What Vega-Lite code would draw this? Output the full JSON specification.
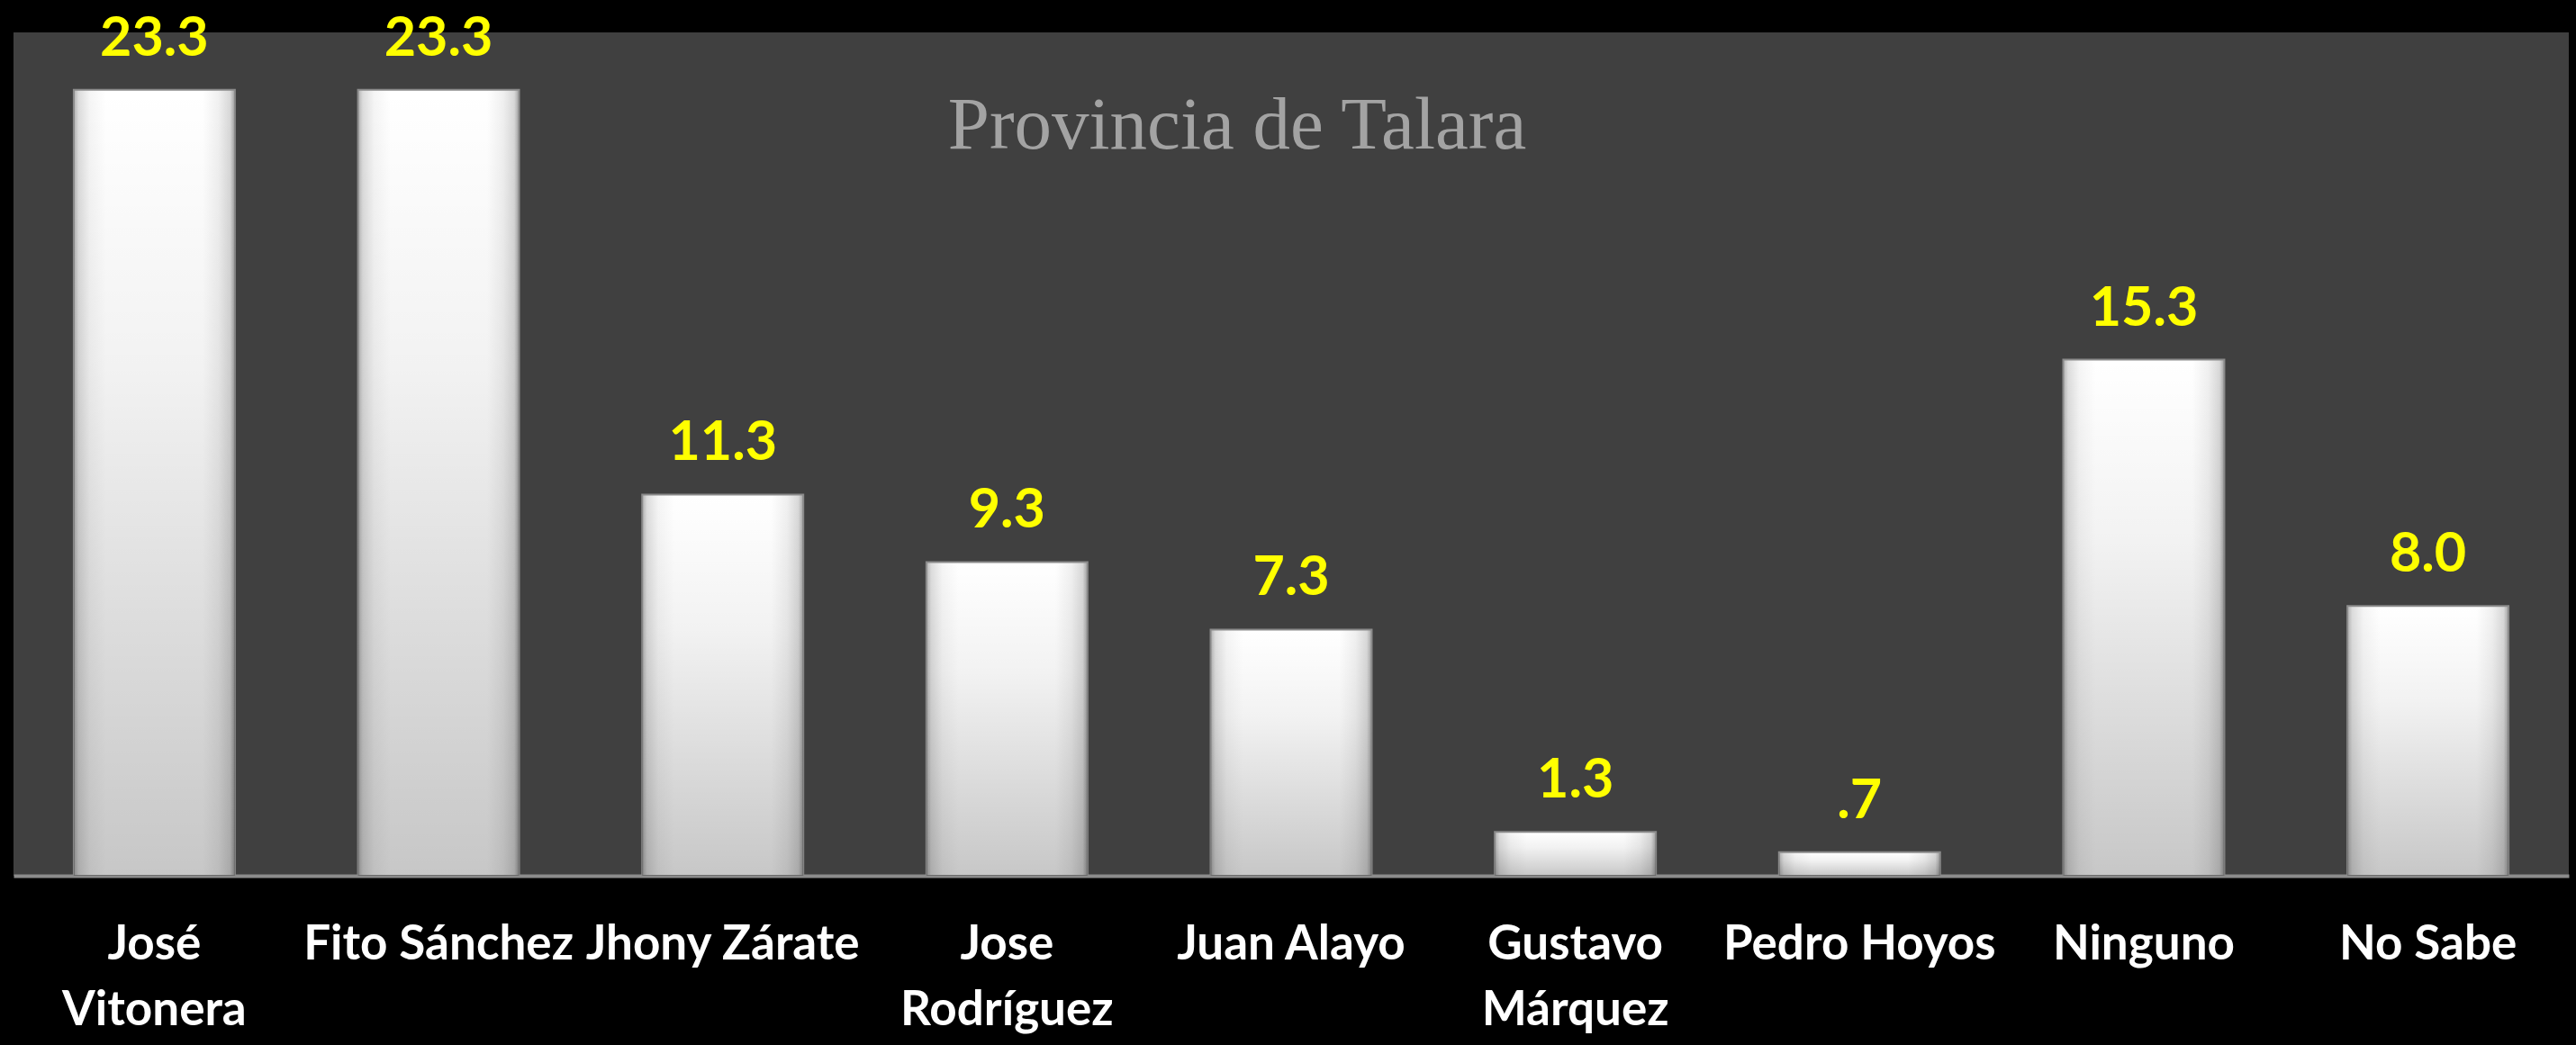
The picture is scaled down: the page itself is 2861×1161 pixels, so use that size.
{
  "$schema": "https://vega.github.io/schema/vega-lite/v6.json",
  "width": 2838,
  "height": 937,
  "autosize": {"type": "none"},
  "padding": {"left": 15, "top": 36, "right": 8, "bottom": 188},
  "background": "#000000",
  "title": {
    "text": "Provincia de Talara",
    "font": "Liberation Serif",
    "fontSize": 83,
    "fontWeight": "normal",
    "color": "#a3a3a3",
    "anchor": "middle",
    "frame": "group",
    "baseline": "alphabetic",
    "offset": -235,
    "dx": -60
  },
  "config": {"view": {"fill": "#404040", "stroke": null}},
  "data": {
    "values": [
      {"candidato": "José Vitonera", "pct": 23.3},
      {"candidato": "Fito Sánchez", "pct": 23.3},
      {"candidato": "Jhony Zárate", "pct": 11.3},
      {"candidato": "Jose Rodríguez", "pct": 9.3},
      {"candidato": "Juan Alayo", "pct": 7.3},
      {"candidato": "Gustavo Márquez", "pct": 1.3},
      {"candidato": "Pedro Hoyos", "pct": 0.7},
      {"candidato": "Ninguno", "pct": 15.3},
      {"candidato": "No Sabe", "pct": 8.0}
    ]
  },
  "encoding": {
    "x": {
      "field": "candidato",
      "type": "nominal",
      "sort": null,
      "scale": {"paddingInner": 0.433, "paddingOuter": 0.212},
      "axis": {
        "title": null,
        "labelAngle": 0,
        "labelColor": "#ffffff",
        "labelFont": "Lato",
        "labelFontSize": 53,
        "labelFontWeight": "bold",
        "labelLineHeight": 73,
        "labelPadding": 50,
        "ticks": false,
        "domainColor": "#8c8c8c",
        "domainWidth": 4,
        "labelOverlap": false,
        "labelBound": false,
        "labelFlush": false,
        "labelLimit": 0,
        "labelExpr": "indexof(['José Vitonera','Jose Rodríguez','Gustavo Márquez'], datum.value) >= 0 ? split(datum.value, ' ') : datum.value"
      }
    },
    "y": {
      "field": "pct",
      "type": "quantitative",
      "scale": {"domain": [0, 25], "nice": false},
      "axis": null
    }
  },
  "layer": [
    {
      "mark": {
        "type": "bar",
        "stroke": "#8a8a8a",
        "strokeWidth": 2,
        "fill": {
          "gradient": "linear",
          "x1": 0, "y1": 0, "x2": 1, "y2": 0,
          "stops": [
            {"offset": 0, "color": "#b0b0b0"},
            {"offset": 0.03, "color": "#dcdcdc"},
            {"offset": 0.1, "color": "#f5f5f5"},
            {"offset": 0.2, "color": "#ffffff"},
            {"offset": 0.8, "color": "#ffffff"},
            {"offset": 0.9, "color": "#f0f0f0"},
            {"offset": 0.97, "color": "#d8d8d8"},
            {"offset": 1, "color": "#a0a0a0"}
          ]
        }
      }
    },
    {
      "mark": {
        "type": "bar",
        "fill": {
          "gradient": "linear",
          "x1": 0, "y1": 0, "x2": 0, "y2": 1,
          "stops": [
            {"offset": 0, "color": "rgba(0,0,0,0)"},
            {"offset": 0.35, "color": "rgba(0,0,0,0.05)"},
            {"offset": 1, "color": "rgba(0,0,0,0.22)"}
          ]
        }
      }
    },
    {
      "transform": [
        {"calculate": "slice(format(datum.pct, '.1f'), datum.pct < 1 ? 1 : 0)", "as": "etiqueta"}
      ],
      "mark": {
        "type": "text",
        "baseline": "alphabetic",
        "align": "center",
        "dy": -38,
        "font": "Lato",
        "fontSize": 61,
        "fontWeight": "bold",
        "color": "#ffff00"
      },
      "encoding": {"text": {"field": "etiqueta"}}
    }
  ]
}
